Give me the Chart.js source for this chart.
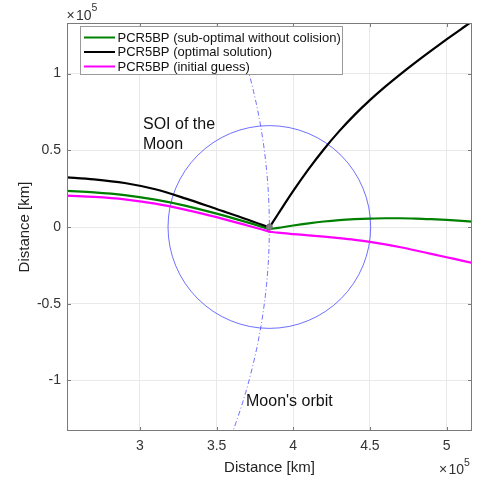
<!DOCTYPE html>
<html><head><meta charset="utf-8">
<script src="https://cdn.jsdelivr.net/npm/chart.js@4.4.0/dist/chart.umd.min.js"></script>
<style>html,body{margin:0;padding:0;background:#fff}</style>
</head><body>
<canvas id="c" width="477" height="477"></canvas>
<script>
// ---- data (km); each trajectory = arrival branch + departure branch at the Moon ----
const seriesLabels = ['PCR5BP (sub-optimal without colision)', 'PCR5BP (optimal solution)', 'PCR5BP (initial guess)'];

const inX  = [245000, 252400, 270000, 290000, 310000, 330000, 350000, 370000, 384400];
const outX = [384400, 390000, 400000, 410000, 420000, 430000, 440000, 450000, 460000, 470000, 480000, 490000, 500000, 510000, 520000];

const suboptInY  = [23900, 23500, 22600, 20800, 17800, 13800,  8700,  3000, -1400];
const suboptOutY = [-1400,  -600,  1000,  2400,  3600,  4500,  5100,  5500,  5700,  5700,  5500,  5100,  4600,  4000,  3300];

const optimalInY  = [32900, 32400, 31100, 28700, 24600, 18500, 11700,  4900,  -300];
const optimalOutY = [ -300,  8300, 23500, 37700, 50700, 62500, 73100, 82700, 91500, 99700, 107500, 115000, 122300, 129400, 136400];

const guessInY  = [20800, 20400, 19600, 18000, 15200, 11200,  6400,  1000, -3000];
const guessOutY = [-3000, -3700, -4600, -5400, -6300, -7300, -8400, -9700, -11300, -13200, -15300, -17500, -19700, -21900, -24100];

const moonCenter = [384400, 0];
const earthCenter = [0, 0];
const soiRadius = 66100;
const moonOrbitRadius = 384400;

const xTicks = [300000, 350000, 400000, 450000, 500000];
const yTicks = [-100000, -50000, 0, 50000, 100000];
const xRange = [252400, 516600];
const yRange = [-133000, 133000];

// ---- styling ----
const FONT = "'Liberation Sans', Arial, Helvetica, sans-serif";
const colors = ['#008000', '#000000', '#ff00ff'];
const toPts = (xs, ys) => xs.map((v, i) => ({x: v, y: ys[i]}));

const overlay = {
  id: 'overlay',
  beforeDatasetsDraw(chart) {
    const {ctx, chartArea: a, scales: {x, y}} = chart;
    ctx.save();
    ctx.beginPath(); ctx.rect(a.left, a.top, a.right - a.left, a.bottom - a.top); ctx.clip();
    ctx.strokeStyle = 'rgba(40,40,255,0.75)'; ctx.lineWidth = 0.9;
    const cx = x.getPixelForValue(moonCenter[0]), cy = y.getPixelForValue(moonCenter[1]);
    const rx = x.getPixelForValue(moonCenter[0] + soiRadius) - cx;
    const ry = cy - y.getPixelForValue(moonCenter[1] + soiRadius);
    ctx.beginPath(); ctx.ellipse(cx, cy, rx, ry, 0, 0, Math.PI * 2); ctx.stroke();
    const ox = x.getPixelForValue(earthCenter[0]), oy = y.getPixelForValue(earthCenter[1]);
    const orx = x.getPixelForValue(earthCenter[0] + moonOrbitRadius) - ox;
    const ory = oy - y.getPixelForValue(earthCenter[1] + moonOrbitRadius);
    ctx.setLineDash([5, 2.5, 1, 2.5]);
    ctx.beginPath(); ctx.ellipse(ox, oy, orx, ory, 0, 0, Math.PI * 2); ctx.stroke();
    ctx.restore();
  },
  afterDatasetsDraw(chart) {
    const {ctx, chartArea: a, scales: {x, y}} = chart;
    ctx.save();
    ctx.strokeStyle = '#7a7a7a'; ctx.lineWidth = 1;
    ctx.strokeRect(Math.round(a.left) + 0.5, Math.round(a.top) + 0.5, Math.round(a.right - a.left) - 1, Math.round(a.bottom - a.top) - 1);
    const tl = 4;
    ctx.beginPath();
    xTicks.forEach(v => {
      const p = Math.round(x.getPixelForValue(v)) + 0.5;
      ctx.moveTo(p, a.bottom); ctx.lineTo(p, a.bottom - tl);
      ctx.moveTo(p, a.top); ctx.lineTo(p, a.top + tl);
    });
    yTicks.forEach(v => {
      const p = Math.round(y.getPixelForValue(v)) + 0.5;
      ctx.moveTo(a.left, p); ctx.lineTo(a.left + tl, p);
      ctx.moveTo(a.right, p); ctx.lineTo(a.right - tl, p);
    });
    ctx.stroke();

    // legend
    const lx = 80.5, ly = 26.5, lw = 262, lh = 48;
    ctx.fillStyle = '#fff'; ctx.fillRect(lx, ly, lw, lh);
    ctx.strokeStyle = '#9a9a9a'; ctx.strokeRect(lx, ly, lw, lh);
    const rows = [37.5, 52, 66.5];
    ctx.font = '13px ' + FONT; ctx.textBaseline = 'middle'; ctx.textAlign = 'left';
    seriesLabels.forEach((t, i) => {
      ctx.strokeStyle = colors[i]; ctx.lineWidth = 2;
      ctx.beginPath(); ctx.moveTo(84, rows[i]); ctx.lineTo(115, rows[i]); ctx.stroke();
      ctx.fillStyle = '#111'; ctx.fillText(t, 117.5, rows[i] + 0.5);
    });

    // annotations
    ctx.fillStyle = '#111'; ctx.font = '16px ' + FONT; ctx.textBaseline = 'middle';
    ctx.fillText('SOI of the', 143, 125);
    ctx.fillText('Moon', 143, 145);
    ctx.fillText("Moon's orbit", 246, 401.5);

    // exponent labels
    const expo = (X, base) => {
      ctx.fillStyle = '#333'; ctx.textBaseline = 'alphabetic';
      ctx.font = '14px ' + FONT;
      ctx.fillText('\u00d7', X, base);
      ctx.fillText('10', X + 9.5, base);
      ctx.font = '10.5px ' + FONT;
      ctx.fillText('5', X + 25, base - 8.5);
    };
    expo(66.5, 19.5);
    expo(439, 474);
    ctx.restore();
  }
};

const line = (data, i, order) => ({label: seriesLabels[i], data, order, borderColor: colors[i], borderWidth: 2.2,
  showLine: true, pointRadius: 0, cubicInterpolationMode: 'monotone', borderCapStyle: 'round', borderJoinStyle: 'round'});

new Chart(document.getElementById('c'), {
  type: 'scatter',
  data: {
    datasets: [
      {label: 'Moon', data: [{x: moonCenter[0], y: moonCenter[1]}], order: 0, pointRadius: 3,
       backgroundColor: '#7f7f7f', borderColor: '#6f6f6f', borderWidth: 1, showLine: false},
      line(toPts(inX, suboptInY), 0, 3),
      line(toPts(outX, suboptOutY), 0, 3),
      line(toPts(inX, optimalInY), 1, 2),
      line(toPts(outX, optimalOutY), 1, 2),
      line(toPts(inX, guessInY), 2, 1),
      line(toPts(outX, guessOutY), 2, 1)
    ]
  },
  options: {
    responsive: false, animation: false, devicePixelRatio: 1,
    layout: {padding: {top: 23, right: 5, left: 0, bottom: 0}},
    plugins: {legend: {display: false}, tooltip: {enabled: false}},
    scales: {
      x: {
        type: 'linear', min: xRange[0], max: xRange[1],
        afterBuildTicks: s => { s.ticks = xTicks.map(v => ({value: v})); },
        afterFit: s => { s.height = 46; },
        grid: {color: '#e9e9e9', drawTicks: false}, border: {display: false},
        ticks: {padding: 7, color: '#333', maxRotation: 0, font: {family: FONT, size: 14}, callback: v => String(v / 1e5)},
        title: {display: true, text: 'Distance [km]', color: '#222', font: {family: FONT, size: 15}, padding: {top: 0, bottom: 0}}
      },
      y: {
        type: 'linear', min: yRange[0], max: yRange[1],
        afterBuildTicks: s => { s.ticks = yTicks.map(v => ({value: v})); },
        afterFit: s => { s.width = 67; },
        grid: {color: '#e9e9e9', drawTicks: false}, border: {display: false},
        ticks: {padding: 6, color: '#333', font: {family: FONT, size: 14}, callback: v => String(v / 1e5)},
        title: {display: true, text: 'Distance [km]', color: '#222', font: {family: FONT, size: 15}, padding: {top: 16, bottom: 0}}
      }
    }
  },
  plugins: [overlay]
});
</script>
</body></html>
